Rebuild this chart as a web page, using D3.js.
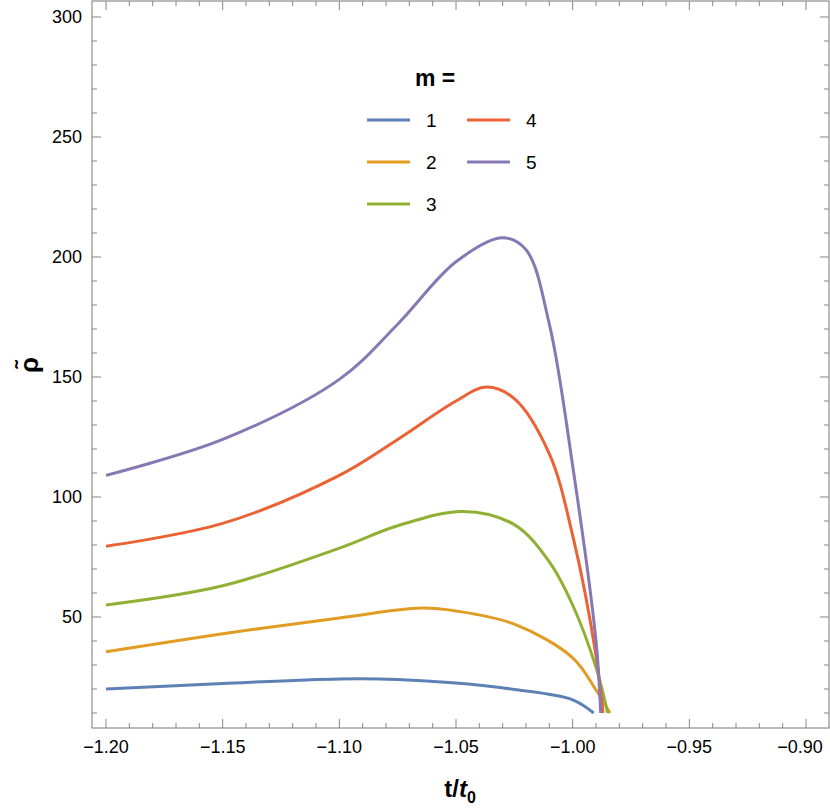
<!DOCTYPE html><html><head><meta charset="utf-8"><script src="https://cdn.jsdelivr.net/npm/d3@7"></script>
<style>body{margin:0;background:#fff}text{font-family:"Liberation Sans",Arial,sans-serif}</style></head><body><svg id="c" width="830" height="811"></svg>
<script>
const categories=["1","2","3","4","5"];
const colors=["#5E81B5","#E19C24","#8FB032","#EB6235","#8778B3"];
const m1=[[-1.20,20],[-1.15,22.3],[-1.10,24.2],[-1.075,24],[-1.05,22.5],[-1.025,19.8],[-1.00,15.5],[-0.991,10]];
const m2=[[-1.20,35.5],[-1.15,43],[-1.10,49.6],[-1.065,53.7],[-1.05,52.5],[-1.025,47],[-1.00,33],[-0.99,19.6],[-0.984,10]];
const m3=[[-1.20,55],[-1.15,63],[-1.10,78.7],[-1.075,88],[-1.047,94],[-1.025,88.5],[-1.01,73],[-1.00,55],[-0.99,29],[-0.985,10]];
const m4=[[-1.20,79.5],[-1.15,89],[-1.10,109],[-1.075,124],[-1.05,140],[-1.037,145.8],[-1.025,141],[-1.01,118],[-1.00,84],[-0.99,34],[-0.987,10]];
const m5=[[-1.20,109],[-1.15,124],[-1.10,149],[-1.075,172],[-1.05,198],[-1.03,208],[-1.02,203],[-1.01,172],[-1.00,113],[-0.99,40],[-0.988,10]];
const series=[m1,m2,m3,m4,m5];
const xTicks=[-1.20,-1.15,-1.10,-1.05,-1.00,-0.95,-0.90];
const yTicks=[50,100,150,200,250,300];
const svg=d3.select("#c");
const L=92,R=829,T=1,B=728;
const x=d3.scaleLinear().domain([-1.2,-0.9]).range([106,806]);
const y=d3.scaleLinear().domain([0,300]).range([737,17]);
const g=svg.append("g");
g.append("rect").attr("x",L).attr("y",T).attr("width",R-L).attr("height",B-T).attr("fill","none").attr("stroke","#777").attr("stroke-width",1);
const minorX=d3.range(-1.20,-0.895,0.01), minorY=d3.range(10,301,10);
minorX.forEach(v=>{const big=xTicks.some(t=>Math.abs(t-v)<1e-6);const h=big?9:5;
 g.append("line").attr("x1",x(v)).attr("x2",x(v)).attr("y1",B).attr("y2",B-h).attr("stroke","#888");
 g.append("line").attr("x1",x(v)).attr("x2",x(v)).attr("y1",T).attr("y2",T+h).attr("stroke","#888");});
minorY.forEach(v=>{const big=v%50===0;const h=big?9:5;
 g.append("line").attr("x1",L).attr("x2",L+h).attr("y1",y(v)).attr("y2",y(v)).attr("stroke","#888");
 g.append("line").attr("x1",R).attr("x2",R-h).attr("y1",y(v)).attr("y2",y(v)).attr("stroke","#888");});
xTicks.forEach(v=>g.append("text").attr("x",Math.min(x(v),800)).attr("y",B+25).attr("text-anchor","middle").attr("font-size",18).text(d3.format(".2f")(v).replace("-","\u2212")));
yTicks.forEach(v=>g.append("text").attr("x",L-10).attr("y",y(v)+6).attr("text-anchor","end").attr("font-size",18).text(v));
const line=d3.line().x(d=>x(d[0])).y(d=>y(d[1])).curve(d3.curveCatmullRom.alpha(0.5));
series.forEach((s,i)=>g.append("path").attr("d",line(s)).attr("fill","none").attr("stroke",colors[i]).attr("stroke-width",3));
const xl=g.append("text").attr("x",460).attr("y",797).attr("text-anchor","middle").attr("font-size",24).attr("font-weight","bold");
xl.append("tspan").text("t/");xl.append("tspan").attr("font-style","italic").text("t");xl.append("tspan").attr("font-size",16).attr("dy",6).text("0");
g.append("text").attr("transform","translate(38,365) rotate(-90)").attr("text-anchor","middle").attr("font-size",26).attr("font-weight","bold").text("\u03C1\u0303");
g.append("text").attr("x",415).attr("y",86).attr("font-size",23).attr("font-weight","bold").text("m =");
const pos=[[0,0],[0,1],[0,2],[1,0],[1,1]];
categories.forEach((c,i)=>{const cx=367+pos[i][0]*100, cy=120+pos[i][1]*42;
 g.append("line").attr("x1",cx).attr("x2",cx+43).attr("y1",cy).attr("y2",cy).attr("stroke",colors[i]).attr("stroke-width",3);
 g.append("text").attr("x",cx+59).attr("y",cy+7).attr("font-size",19).text(c);});
</script></body></html>
